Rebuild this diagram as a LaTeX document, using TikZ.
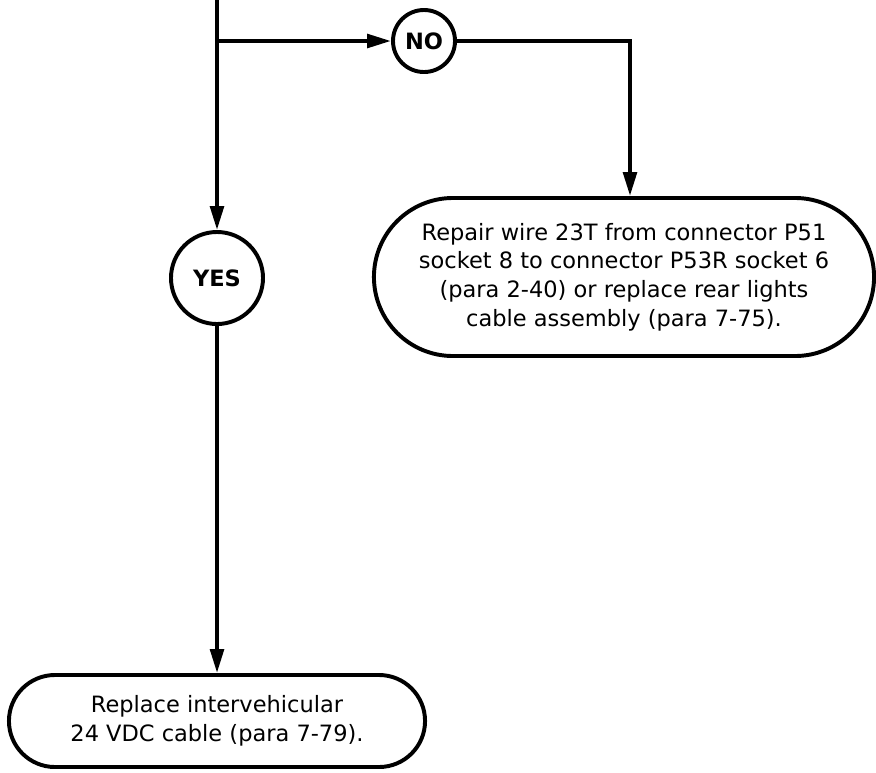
\documentclass[tikz,border=0pt]{standalone}
\usepackage{fontspec}
\setmainfont{DejaVu Sans}
\usetikzlibrary{shapes.misc, arrows.meta}

\begin{document}
\begin{tikzpicture}[
    x=0.025cm, y=-0.025cm,
    every node/.style={font=\fontsize{16}{20.3}\selectfont},
    line width=2.8pt,
    flow/.style={draw, -{Triangle[length=0.6cm, width=0.34cm]}},
    answer/.style={draw, circle, inner sep=0pt, font=\fontsize{16}{20}\selectfont\bfseries},
    action/.style={draw, rounded rectangle, align=center, inner sep=0pt}
]
\useasboundingbox (0,0) rectangle (876,772);
% answers
\node[answer, minimum size=1.55cm] (no) at (424,41) {NO};
\node[answer, minimum size=2.3cm] (yes) at (217,278) {YES};
% actions
\node[action, minimum width=12.5cm, minimum height=3.95cm] (repair) at (624,277)
    {Repair wire 23T from connector P51\\socket 8 to connector P53R socket 6\\(para 2-40) or replace rear lights\\cable assembly (para 7-75).};
\node[action, minimum width=10.4cm, minimum height=2.3cm] (cable) at (217,721)
    {Replace intervehicular\\24 VDC cable (para 7-79).};
% connectors
\coordinate (top) at (217,0);
\coordinate (split) at (217,41);
\coordinate (bend) at (630,41);
\draw[flow] (top) -- (yes);
\draw[flow] (split) -- (no);
\draw[flow] (no) -- (bend) -- (bend |- repair.north);
\draw[flow] (yes) -- (cable);
\end{tikzpicture}
\end{document}
